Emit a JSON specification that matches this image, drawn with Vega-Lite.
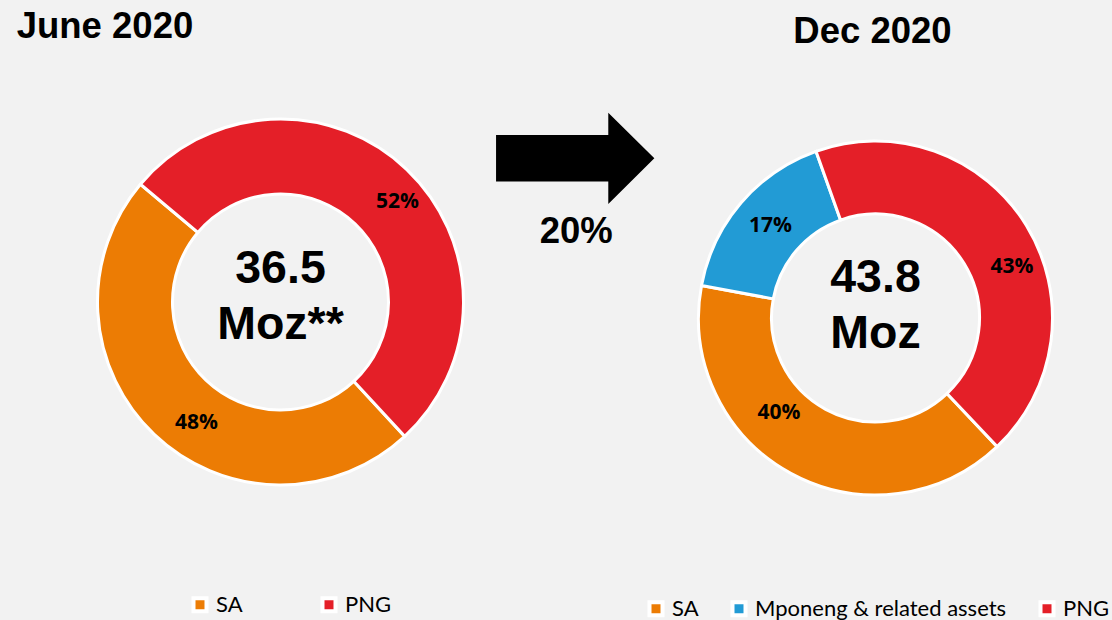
{
  "$schema": "https://vega.github.io/schema/vega-lite/v6.json",
  "background": "#f2f2f2",
  "padding": 0,
  "autosize": {"type": "pad"},
  "config": {"view": {"stroke": null}, "font": "Liberation Sans"},
  "datasets": {
    "june": [
      {"category": "SA", "share": 48, "label": "48%"},
      {"category": "PNG", "share": 52, "label": "52%"}
    ],
    "dec": [
      {"category": "SA", "share": 40, "label": "40%"},
      {"category": "Mponeng & related assets", "share": 16.6, "label": "17%"},
      {"category": "PNG", "share": 43.4, "label": "43%"}
    ]
  },
  "spacing": 78,
  "bounds": "flush",
  "resolve": {"scale": {"color": "independent", "theta": "independent"}, "legend": {"color": "independent"}},
  "hconcat": [
    {
      "width": 561,
      "height": 604,
      "layer": [
        {
          "data": {"name": "june"},
          "transform": [{"window": [{"op": "row_number", "as": "rn"}]}],
          "mark": {"type": "arc", "radius": 183, "radius2": 108, "stroke": "white", "strokeWidth": 3},
          "encoding": {
            "theta": {"field": "share", "type": "quantitative", "stack": true, "scale": {"range": [2.3955, 8.6787]}},
            "color": {
              "field": "category", "type": "nominal",
              "scale": {"domain": ["SA", "PNG"], "range": ["#ec7c04", "#e41f28"]},
              "legend": {
                "title": null, "orient": "none", "legendX": 189, "legendY": 593.5, "direction": "horizontal",
                "symbolType": "square", "symbolSize": 169, "symbolStrokeColor": "white", "symbolStrokeWidth": 4,
                "symbolOpacity": 1,
                "labelFont": "Lato", "labelFontSize": 22, "labelColor": "#000000", "columnPadding": 71, "labelOffset": 5
              }
            },
            "order": {"field": "rn", "type": "quantitative"}
          }
        },
        {
          "data": {"name": "june"},
          "transform": [{"window": [{"op": "row_number", "as": "rn"}]}],
          "mark": {
            "type": "text", "radius": 150, "font": "Open Sans", "fontWeight": "bold", "fontSize": 21, "color": "#000000",
            "radiusOffset": {"expr": "datum.category === 'SA' ? -2.5 : 4"},
            "thetaOffset": {"expr": "datum.category === 'SA' ? -0.155 : 0.0995"}
          },
          "encoding": {
            "theta": {"field": "share", "type": "quantitative", "stack": true},
            "order": {"field": "rn", "type": "quantitative"},
            "text": {"field": "label"}
          }
        },
        {
          "data": {"values": [{"t": "36.5\nMoz**"}]},
          "mark": {"type": "text", "font": "Liberation Sans", "fontWeight": "bold", "fontSize": 46.5, "lineBreak": "\n", "lineHeight": 55.5, "baseline": "alphabetic", "dy": -19, "color": "#000000"},
          "encoding": {"text": {"field": "t"}}
        },
        {
          "data": {"values": [{"t": "June 2020"}]},
          "mark": {"type": "text", "x": 16.7, "y": 38.3, "align": "left", "baseline": "alphabetic", "font": "Liberation Sans", "fontWeight": "bold", "fontSize": 36.5, "color": "#000000"},
          "encoding": {"text": {"field": "t"}}
        },
        {
          "data": {"values": [{"k": "arrow"}]},
          "mark": {"type": "point", "shape": "M-1,-0.294L0.418,-0.294L0.418,-0.577L1,0L0.418,0.577L0.418,0.294L-1,0.294Z", "size": 25059, "filled": true, "fill": "#000000", "opacity": 1, "strokeWidth": 0, "x": 575.2, "y": 158.3},
          "encoding": {}
        },
        {
          "data": {"values": [{"t": "20%"}]},
          "mark": {"type": "text", "x": 576.3, "y": 243.3, "align": "center", "baseline": "alphabetic", "font": "Liberation Sans", "fontWeight": "bold", "fontSize": 36.5, "color": "#000000"},
          "encoding": {"text": {"field": "t"}}
        }
      ]
    },
    {
      "width": 473,
      "height": 620,
      "layer": [
        {
          "data": {"name": "dec"},
          "transform": [{"window": [{"op": "row_number", "as": "rn"}]}],
          "mark": {"type": "arc", "radius": 177, "radius2": 104, "stroke": "white", "strokeWidth": 3, "y": 318},
          "encoding": {
            "theta": {"field": "share", "type": "quantitative", "stack": true, "scale": {"range": [2.3841, 8.6673]}},
            "color": {
              "field": "category", "type": "nominal",
              "scale": {"domain": ["SA", "Mponeng & related assets", "PNG"], "range": ["#ec7c04", "#229bd5", "#e41f28"]},
              "legend": {
                "title": null, "orient": "none", "legendX": 6, "legendY": 597.5, "direction": "horizontal",
                "symbolType": "square", "symbolSize": 169, "symbolStrokeColor": "white", "symbolStrokeWidth": 4,
                "symbolOpacity": 1,
                "labelFont": "Lato", "labelFontSize": 22, "labelColor": "#000000", "columnPadding": 25, "labelOffset": 5, "labelLimit": 400
              }
            },
            "order": {"field": "rn", "type": "quantitative"}
          }
        },
        {
          "data": {"name": "dec"},
          "transform": [{"window": [{"op": "row_number", "as": "rn"}]}],
          "mark": {
            "type": "text", "radius": 140, "font": "Open Sans", "fontWeight": "bold", "fontSize": 21, "color": "#000000", "y": 318,
            "radiusOffset": {"expr": "datum.category === 'SA' ? -4.4 : datum.category === 'PNG' ? 5.5 : -0.5"},
            "thetaOffset": {"expr": "datum.category === 'SA' ? 0.293 : datum.category === 'PNG' ? 0.194 : 0.012"}
          },
          "encoding": {
            "theta": {"field": "share", "type": "quantitative", "stack": true},
            "order": {"field": "rn", "type": "quantitative"},
            "text": {"field": "label"}
          }
        },
        {
          "data": {"values": [{"t": "43.8\nMoz"}]},
          "mark": {"type": "text", "font": "Liberation Sans", "fontWeight": "bold", "fontSize": 46.5, "lineBreak": "\n", "lineHeight": 56.5, "baseline": "alphabetic", "dy": -26.5, "color": "#000000", "y": 318},
          "encoding": {"text": {"field": "t"}}
        },
        {
          "data": {"values": [{"t": "Dec 2020"}]},
          "mark": {"type": "text", "x": 233.5, "y": 43.3, "align": "center", "baseline": "alphabetic", "font": "Liberation Sans", "fontWeight": "bold", "fontSize": 36.5, "color": "#000000"},
          "encoding": {"text": {"field": "t"}}
        }
      ]
    }
  ]
}
